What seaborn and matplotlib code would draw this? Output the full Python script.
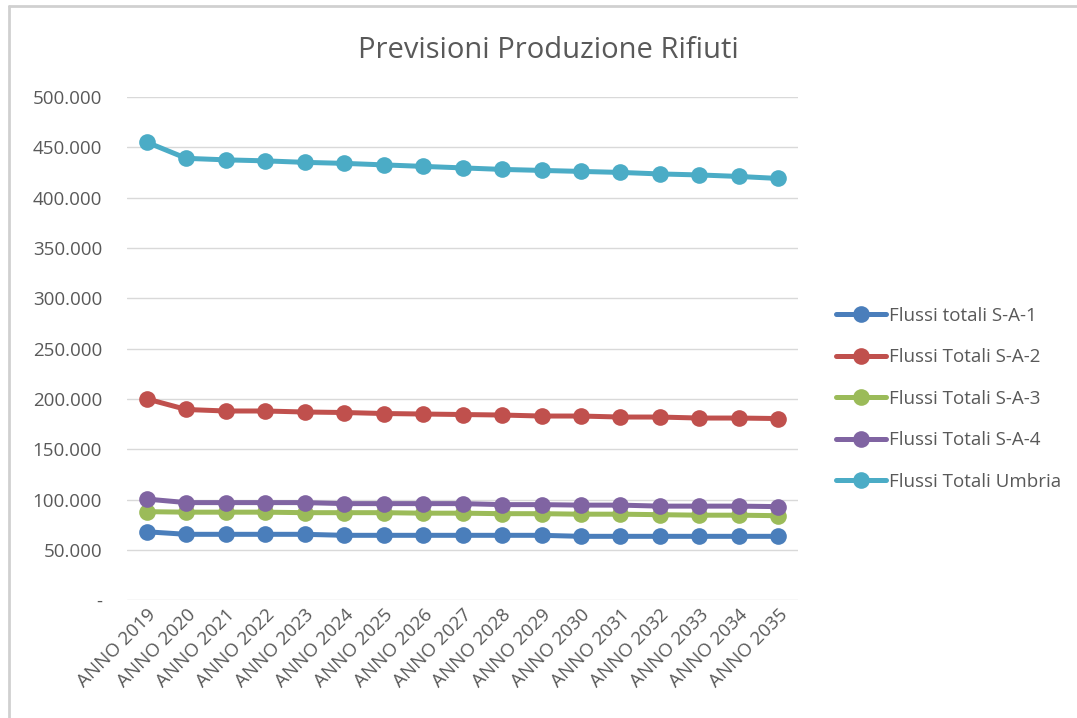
import matplotlib
matplotlib.use("Agg")
import matplotlib.pyplot as plt
import seaborn as sns
import pandas as pd
from matplotlib.lines import Line2D
from matplotlib.ticker import FuncFormatter

years = ["ANNO 2019", "ANNO 2020", "ANNO 2021", "ANNO 2022", "ANNO 2023", "ANNO 2024",
         "ANNO 2025", "ANNO 2026", "ANNO 2027", "ANNO 2028", "ANNO 2029", "ANNO 2030",
         "ANNO 2031", "ANNO 2032", "ANNO 2033", "ANNO 2034", "ANNO 2035"]

sa1 = [68000, 65500, 65500, 65500, 65500, 64500, 64500, 64500, 64500, 64500, 64500,
       63500, 63500, 63500, 63500, 63500, 63500]
sa2 = [200000, 189500, 188000, 188000, 187000, 186500, 185500, 185000, 184500, 184000,
       183000, 183000, 182000, 182000, 181000, 181000, 180500]
sa3 = [88000, 87500, 87500, 87500, 87000, 87000, 87000, 86500, 86500, 86000, 86000,
       85500, 85500, 85000, 84500, 84500, 84000]
sa4 = [100500, 97000, 97000, 97000, 97000, 96000, 96000, 96000, 96000, 95000, 95000,
       94500, 94500, 93500, 93500, 93500, 93000]
umbria = [455000, 439000, 437500, 436500, 435000, 434000, 432500, 431000, 429500,
          428000, 427000, 426000, 425000, 423500, 422500, 421000, 419000]

series_names = ["Flussi totali S-A-1", "Flussi Totali S-A-2", "Flussi Totali S-A-3",
                "Flussi Totali S-A-4", "Flussi Totali Umbria"]
series_values = [sa1, sa2, sa3, sa4, umbria]
colors = ["#4A7EBB", "#C0504D", "#9BBB59", "#8064A2", "#4BACC6"]

rows = []
for name, vals in zip(series_names, series_values):
    for y, v in zip(years, vals):
        rows.append({"Anno": y, "Valore": v, "Serie": name})
df = pd.DataFrame(rows)
df["Anno"] = pd.Categorical(df["Anno"], categories=years, ordered=True)

sns.set_theme(style="white")
plt.rcParams["font.family"] = ["Open Sans", "DejaVu Sans"]

fig = plt.figure(figsize=(10.77, 7.18), dpi=100)
ax = fig.add_axes([0.118, 0.164, 0.623, 0.701])

sns.lineplot(data=df, x="Anno", y="Valore", hue="Serie", hue_order=series_names,
             palette=colors, marker="o", markersize=12, linewidth=3.6,
             markeredgewidth=0, ax=ax, sort=False)

ax.set_xlim(-0.5, len(years) - 0.5)
ax.set_ylim(0, 500000)
ax.set_yticks(range(0, 500001, 50000))
ax.yaxis.set_major_formatter(FuncFormatter(
    lambda v, p: "-" if v == 0 else f"{int(v):,}".replace(",", ".")))
ax.grid(axis="y", color="#D9D9D9", linewidth=1)
ax.grid(axis="x", visible=False)
for s in ax.spines.values():
    s.set_visible(False)
ax.set_xlabel("")
ax.set_ylabel("")
ax.tick_params(axis="y", length=0, pad=18, labelsize=13.5, labelcolor="#595959")
ax.tick_params(axis="x", length=0, pad=4, labelsize=13.5, labelcolor="#595959")
ax.set_xticks(range(len(years)))
ax.set_xticklabels(years, rotation=45, ha="right", rotation_mode="anchor")

fig.suptitle("Previsioni Produzione Rifiuti", x=0.509, y=0.95, fontsize=21,
             color="#595959")

leg = ax.legend(loc="center left", bbox_to_anchor=(1.045, 0.40), frameon=False,
                fontsize=13.5, labelspacing=1.25, handlelength=2.7, handletextpad=0.15,
                borderaxespad=0)
for t in leg.get_texts():
    t.set_color("#595959")

fig.add_artist(Line2D([0.008, 1.0], [0.991, 0.991], color="#D0D0D0", linewidth=2,
                      transform=fig.transFigure))
fig.add_artist(Line2D([0.008, 0.008], [0.0, 0.991], color="#D0D0D0", linewidth=2,
                      transform=fig.transFigure))

fig.savefig("out.png", dpi=100, facecolor="white")
